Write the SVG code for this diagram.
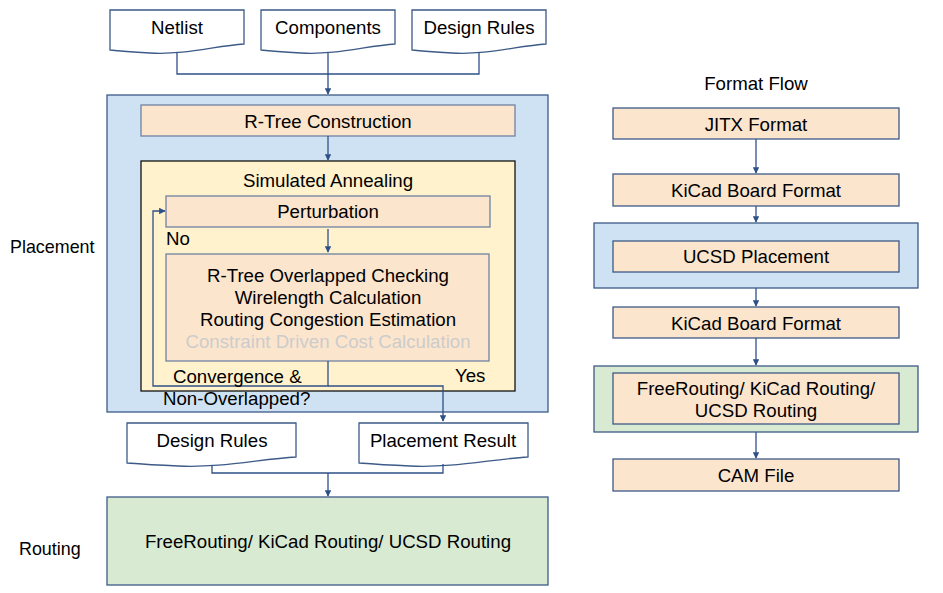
<svg xmlns="http://www.w3.org/2000/svg" width="943" height="593" viewBox="0 0 943 593">
<defs>
<marker id="ah" viewBox="0 0 10 10" refX="9" refY="5" markerWidth="5" markerHeight="5" orient="auto" markerUnits="strokeWidth">
<path d="M0,0 L10,5 L0,10 z" fill="#2e5088"/>
</marker>
<style>
text{font-family:"Liberation Sans",Arial,sans-serif;font-size:18.67px;fill:#000}
.c{text-anchor:middle}
.doc{fill:#fff;stroke:#3d5a88;stroke-width:1.3}
.blue{fill:#cfe2f3;stroke:#3d5a88;stroke-width:1.3}
.green{fill:#d9ead3;stroke:#3d5a88;stroke-width:1.3}
.org{fill:#fce5cd;stroke:#3d5a88;stroke-width:1.3}
.org2{fill:#fce5cd;stroke:#6f82a3;stroke-width:1.3}
.yel{fill:#fff2cc;stroke:#111;stroke-width:1.3}
.ln{fill:none;stroke:#2e5088;stroke-width:1.3}
.ar{fill:none;stroke:#2e5088;stroke-width:1.3;marker-end:url(#ah)}
.gray{fill:#cccccc}
</style>
</defs>
<rect width="943" height="593" fill="#fff"/>

<g id="label-placement"><text x="10" y="253" style="font-size:17.9px">Placement</text></g>
<g id="label-routing"><text x="19" y="555" style="font-size:17.9px">Routing</text></g>

<g id="placement-container"><rect class="blue" x="107" y="95" width="441" height="317"/></g>
<g id="routing-container"><rect class="green" x="107" y="497" width="441" height="88"/><text class="c" x="328" y="548">FreeRouting/ KiCad Routing/ UCSD Routing</text></g>

<g id="doc-netlist"><path class="doc" d="M110,10 H244 V44 C215,46 185,55 150,53 C130,52 118,51 110,50 Z"/><text class="c" x="177" y="34">Netlist</text></g>
<g id="doc-components"><path class="doc" d="M261,10 H395 V44 C366,46 336,55 301,53 C281,52 269,51 261,50 Z"/><text class="c" x="328" y="34">Components</text></g>
<g id="doc-design-rules"><path class="doc" d="M412,10 H546 V44 C517,46 487,55 452,53 C432,52 420,51 412,50 Z"/><text class="c" x="479" y="34">Design Rules</text></g>

<g id="rtree-construction"><rect class="org2" x="141" y="105" width="374" height="31"/><text class="c" x="328" y="128">R-Tree Construction</text></g>

<g id="simulated-annealing"><rect class="yel" x="141" y="161" width="374" height="230"/><text class="c" x="328" y="187">Simulated Annealing</text></g>

<g id="perturbation"><rect class="org2" x="166" y="196" width="324" height="31"/><text class="c" x="328" y="218">Perturbation</text></g>

<g id="evaluation"><rect class="org2" x="166" y="254" width="323" height="107"/>
<text class="c" x="328" y="282">R-Tree Overlapped Checking</text>
<text class="c" x="328" y="304">Wirelength Calculation</text>
<text class="c" x="328" y="326">Routing Congestion Estimation</text>
<text class="c gray" x="328" y="348">Constraint Driven Cost Calculation</text>
</g>

<g id="doc-design-rules-2"><path class="doc" d="M127,423 H296 V457 C260,459 222,468 178,466 C155,465 140,464 127,463 Z"/><text class="c" x="212" y="447">Design Rules</text></g>
<g id="doc-placement-result"><path class="doc" d="M359,423 H528 V457 C492,459 454,468 410,466 C387,465 372,464 359,463 Z"/><text class="c" x="443" y="447">Placement Result</text></g>

<g id="connectors">
<path class="ln" d="M177,52 V74 H479 V52"/>
<path class="ar" d="M328,52 V94"/>
<path class="ar" d="M328,136 V160"/>
<path class="ar" d="M328,229 V252"/>
<path class="ar" d="M328,361 V386 H153 V211 H165"/>
<path class="ar" d="M328,386 H443 V421"/>
<path class="ln" d="M212,465 V473 H443 V464"/>
<path class="ar" d="M328,473 V496"/>
<path class="ar" d="M756,139 V173"/>
<path class="ar" d="M756,206 V222"/>
<path class="ar" d="M756,288 V306"/>
<path class="ar" d="M756,338 V365"/>
<path class="ar" d="M756,432 V458"/>
</g>

<g id="loop-labels">
<text x="166" y="245">No</text>
<text x="173" y="383">Convergence &amp;</text>
<text x="163" y="405">Non-Overlapped?</text>
<text x="455" y="382">Yes</text>
</g>

<g id="format-flow-title"><text class="c" x="756" y="90">Format Flow</text></g>
<g id="jitx-format"><rect class="org" x="613" y="108" width="286" height="31"/><text class="c" x="756" y="131">JITX Format</text></g>
<g id="kicad-board-1"><rect class="org" x="613" y="174" width="286" height="32"/><text class="c" x="756" y="197">KiCad Board Format</text></g>
<g id="ucsd-placement"><rect class="blue" x="594" y="223" width="324" height="65"/><rect class="org" x="613" y="241" width="286" height="31"/><text class="c" x="756" y="263">UCSD Placement</text></g>
<g id="kicad-board-2"><rect class="org" x="613" y="307" width="286" height="31"/><text class="c" x="756" y="330">KiCad Board Format</text></g>
<g id="routing-options"><rect class="green" x="594" y="366" width="324" height="66"/><rect class="org" x="613" y="373" width="286" height="51"/><text class="c" x="756" y="395">FreeRouting/ KiCad Routing/</text><text class="c" x="756" y="417">UCSD Routing</text></g>
<g id="cam-file"><rect class="org" x="613" y="459" width="286" height="32"/><text class="c" x="756" y="482">CAM File</text></g>
</svg>
